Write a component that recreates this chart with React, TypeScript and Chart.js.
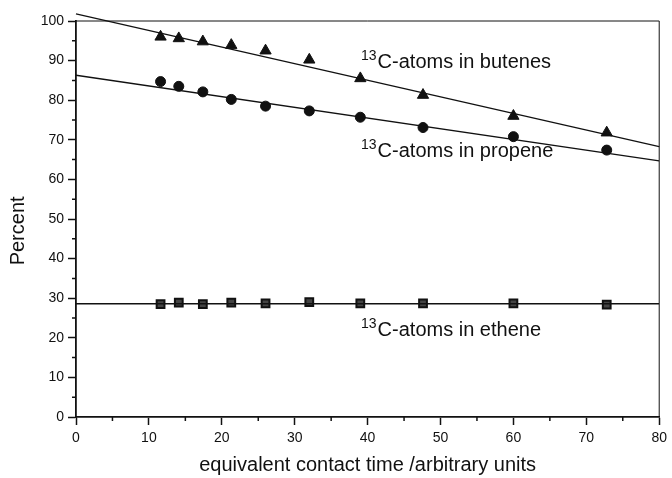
import React, { useEffect, useRef } from "react";
import { Chart, registerables } from "chart.js";

Chart.register(...registerables);

const contactTime = [11.6, 14.1, 17.4, 21.3, 26.0, 32.0, 39.0, 47.6, 60.0, 72.8];
const butenes = [96.0, 95.6, 94.8, 93.9, 92.5, 90.2, 85.5, 81.3, 76.0, 71.8];
const propene = [84.7, 83.5, 82.1, 80.2, 78.5, 77.3, 75.7, 73.1, 70.8, 67.4];
const ethene = [28.5, 28.9, 28.5, 28.9, 28.7, 29.0, 28.7, 28.7, 28.7, 28.4];

const fitX = [0, 80];
const butenesFit = [101.8, 68.3];
const propeneFit = [86.3, 64.7];
const etheneFit = [28.6, 28.6];

const xMinorTicks = [5, 15, 25, 35, 45, 55, 65, 75];
const yMinorTicks = [5, 15, 25, 35, 45, 55, 65, 75, 85, 95];

const labelNames = ["-atoms in butenes", "-atoms in propene", "-atoms in ethene"];
const labelX = [39.1, 39.1, 39.1];
const labelY = [88.1, 65.7, 20.5];

const yTitle = "Percent";
const xTitle = "equivalent contact time /arbitrary units";

const FONT = "'Liberation Sans', Arial, Helvetica, sans-serif";

const decorPlugin = {
  id: "decor",
  afterDraw(chart: any) {
    const { ctx, chartArea, scales } = chart;
    const xs = scales.x;
    const ys = scales.y;
    ctx.save();
    ctx.strokeStyle = "#111";
    // frame top & right
    ctx.lineWidth = 1;
    ctx.beginPath();
    ctx.moveTo(chartArea.left, chartArea.top);
    ctx.lineTo(chartArea.right, chartArea.top);
    ctx.lineTo(chartArea.right, chartArea.bottom);
    ctx.stroke();
    // minor ticks
    ctx.lineWidth = 1.5;
    ctx.beginPath();
    xMinorTicks.forEach((v) => {
      const px = xs.getPixelForValue(v);
      ctx.moveTo(px, chartArea.bottom);
      ctx.lineTo(px, chartArea.bottom + 4);
    });
    yMinorTicks.forEach((v) => {
      const py = ys.getPixelForValue(v);
      ctx.moveTo(chartArea.left, py);
      ctx.lineTo(chartArea.left - 4, py);
    });
    ctx.stroke();
    // y title
    ctx.fillStyle = "#111";
    ctx.save();
    ctx.translate(18.5, ys.getPixelForValue(47));
    ctx.rotate(-Math.PI / 2);
    ctx.textAlign = "center";
    ctx.textBaseline = "middle";
    ctx.font = `20px ${FONT}`;
    ctx.fillText(yTitle, 0, 0);
    ctx.restore();
    // annotations with superscript
    ctx.textBaseline = "alphabetic";
    ctx.textAlign = "left";
    labelNames.forEach((name, i) => {
      const px = xs.getPixelForValue(labelX[i]);
      const py = ys.getPixelForValue(labelY[i]);
      ctx.font = `14px ${FONT}`;
      ctx.fillText("13", px, py - 8);
      const w = ctx.measureText("13").width;
      ctx.font = `20px ${FONT}`;
      ctx.fillText("C" + name, px + w + 1, py);
    });
    ctx.restore();
  },
};

export default function App() {
  const canvasRef = useRef<HTMLCanvasElement | null>(null);

  useEffect(() => {
    document.body.style.margin = "0";
    const canvas = canvasRef.current;
    if (!canvas) return;
    const pts = (ys: number[]) => contactTime.map((x, i) => ({ x, y: ys[i] }));
    const fit = (ys: number[]) => fitX.map((x, i) => ({ x, y: ys[i] }));
    const chart = new Chart(canvas, {
      type: "scatter",
      data: {
        datasets: [
          {
            type: "line",
            label: "butenes fit",
            data: fit(butenesFit),
            borderColor: "#111",
            borderWidth: 1.3,
            pointRadius: 0,
            clip: false,
          } as any,
          {
            type: "line",
            label: "propene fit",
            data: fit(propeneFit),
            borderColor: "#111",
            borderWidth: 1.3,
            pointRadius: 0,
          } as any,
          {
            type: "line",
            label: "ethene fit",
            data: fit(etheneFit),
            borderColor: "#111",
            borderWidth: 1.3,
            pointRadius: 0,
          } as any,
          {
            label: "13C-atoms in butenes",
            data: pts(butenes),
            pointStyle: "triangle",
            pointRadius: 6.5,
            backgroundColor: "#111",
            borderColor: "#111",
            borderWidth: 1,
          },
          {
            label: "13C-atoms in propene",
            data: pts(propene),
            pointStyle: "circle",
            pointRadius: 5,
            backgroundColor: "#111",
            borderColor: "#111",
            borderWidth: 1,
          },
          {
            label: "13C-atoms in ethene",
            data: pts(ethene),
            pointStyle: "rect",
            pointRadius: 5.5,
            backgroundColor: "#444",
            borderColor: "#111",
            borderWidth: 2,
          },
        ],
      },
      options: {
        animation: false,
        responsive: false,
        layout: { padding: { top: 21, right: 9, left: 0, bottom: 0 } },
        plugins: {
          legend: { display: false },
          tooltip: { enabled: false },
        },
        scales: {
          x: {
            type: "linear",
            min: 0,
            max: 80,
            afterFit: (s: any) => {
              s.height = 61;
            },
            ticks: {
              stepSize: 10,
              padding: 5,
              color: "#111",
              font: { family: FONT, size: 14 },
            },
            grid: {
              drawOnChartArea: false,
              drawTicks: true,
              tickLength: 8,
              tickWidth: 1.5,
              tickColor: "#111",
            },
            border: { display: true, color: "#111", width: 1.8 },
            title: {
              display: true,
              text: xTitle,
              color: "#111",
              font: { family: FONT, size: 20 },
              padding: { top: 0, bottom: 1 },
            },
          },
          y: {
            type: "linear",
            min: 0,
            max: 100,
            afterFit: (s: any) => {
              s.width = 76;
            },
            ticks: {
              stepSize: 10,
              padding: 4,
              color: "#111",
              font: { family: FONT, size: 14 },
            },
            grid: {
              drawOnChartArea: false,
              drawTicks: true,
              tickLength: 8,
              tickWidth: 1.5,
              tickColor: "#111",
            },
            border: { display: true, color: "#111", width: 1.8 },
          },
        },
      },
      plugins: [decorPlugin],
    } as any);
    return () => chart.destroy();
  }, []);

  return <canvas ref={canvasRef} width={672} height={478} style={{ display: "block" }} />;
}
